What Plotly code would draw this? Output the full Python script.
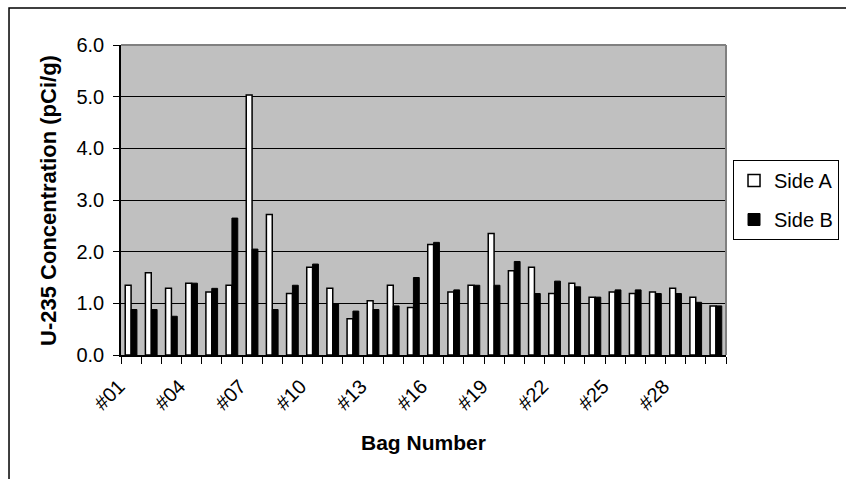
import plotly.graph_objects as go

# U-235 concentration per bag, measured on both sides
bags = [f"#{i:02d}" for i in range(1, 31)]
side_a = [1.35, 1.59, 1.29, 1.39, 1.22, 1.35, 5.03, 2.72, 1.19, 1.70,
          1.29, 0.70, 1.05, 1.35, 0.92, 2.14, 1.22, 1.35, 2.35, 1.63,
          1.70, 1.19, 1.39, 1.12, 1.22, 1.19, 1.22, 1.29, 1.12, 0.95]
side_b = [0.88, 0.88, 0.75, 1.39, 1.29, 2.65, 2.05, 0.88, 1.35, 1.76,
          0.99, 0.85, 0.88, 0.95, 1.50, 2.18, 1.26, 1.35, 1.35, 1.81,
          1.19, 1.43, 1.32, 1.12, 1.26, 1.26, 1.19, 1.19, 1.02, 0.95]
# only every third bag gets a label; every bag gets a tick
tick_text = [b if i % 3 == 0 else "" for i, b in enumerate(bags)]

FONT = "Liberation Sans, Arial, sans-serif"

fig = go.Figure()
fig.add_trace(go.Bar(
    x=bags, y=side_a, name="Side A", legendgroup="a",
    marker=dict(color="white", line=dict(color="black", width=1.5)),
))
fig.add_trace(go.Bar(
    x=bags, y=side_b, name="Side B", legendgroup="b",
    marker=dict(color="black", line=dict(color="black", width=1)),
))

fig.update_layout(
    width=846, height=479,
    margin=dict(l=121, r=120, t=45, b=124, autoexpand=False),
    paper_bgcolor="white",
    plot_bgcolor="#C0C0C0",
    barmode="group", bargap=0.42, bargroupgap=0,
    font=dict(family=FONT, size=20, color="black"),
    showlegend=True,
    legend=dict(
        x=1.0116, xanchor="left", y=0.5, yanchor="middle",
        bgcolor="white", bordercolor="black", borderwidth=1,
        font=dict(family=FONT, size=20, color="black"),
        itemwidth=30, tracegroupgap=10, traceorder="grouped",
    ),
    xaxis=dict(
        type="category",
        tickmode="array", tickvals=bags, ticktext=tick_text,
        tickson="boundaries", ticks="outside", ticklen=7,
        tickcolor="black", tickwidth=1, tickangle=-45,
        ticklabelstandoff=10, ticklabelshift=-12,
        showline=True, linecolor="black", linewidth=1.5,
        showgrid=False, zeroline=False,
        tickfont=dict(family=FONT, size=20),
    ),
    yaxis=dict(
        range=[0, 6], dtick=1, tickformat=".1f",
        ticks="outside", ticklen=6, tickcolor="black", tickwidth=1,
        ticklabelstandoff=5,
        showline=True, linecolor="black", linewidth=1.5,
        showgrid=True, gridcolor="black", gridwidth=1,
        zeroline=False,
        tickfont=dict(family=FONT, size=20),
    ),
    annotations=[
        dict(text="<b>Bag Number</b>", xref="paper", yref="paper",
             x=0.5, y=-0.281, xanchor="center", yanchor="middle",
             showarrow=False, font=dict(family=FONT, size=21)),
        dict(text="<b>U-235 Concentration (pCi/g)</b>", xref="paper",
             yref="paper", x=-0.1207, y=0.5, xanchor="center",
             yanchor="middle", textangle=-90, showarrow=False,
             font=dict(family=FONT, size=22)),
    ],
    shapes=[
        # grey frame on the top and right of the plotting area
        dict(type="line", xref="paper", yref="paper", x0=0, x1=1, y0=1, y1=1,
             line=dict(color="#808080", width=2)),
        dict(type="line", xref="paper", yref="paper", x0=1, x1=1, y0=0, y1=1,
             line=dict(color="#808080", width=2)),
        # chart border
        dict(type="rect", xref="paper", yref="paper",
             x0=-0.1851, x1=2, y0=-1, y1=1.119,
             line=dict(color="black", width=1.5)),
    ],
)

fig.write_html("out.html")
